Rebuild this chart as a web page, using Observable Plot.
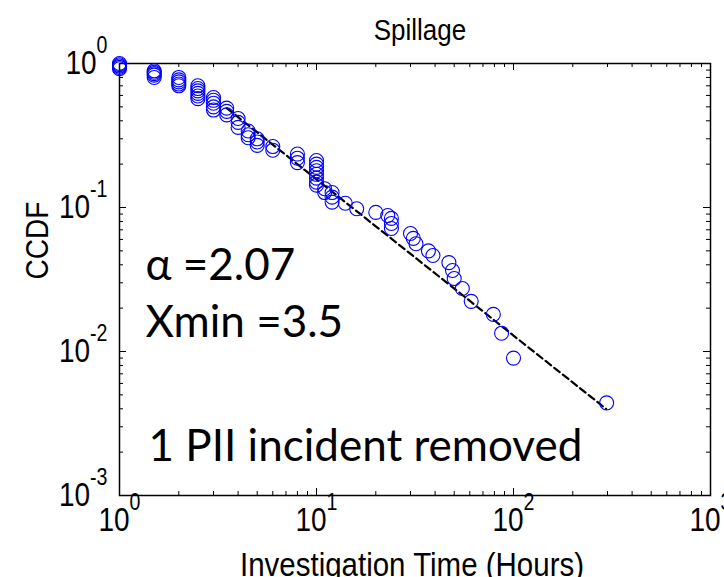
<!DOCTYPE html>
<html><head><meta charset="utf-8">
<script src="https://cdn.jsdelivr.net/npm/d3@7"></script>
<script src="https://cdn.jsdelivr.net/npm/@observablehq/plot@0.6"></script>
<style>body{margin:0;background:#fff} #chart svg{display:block}</style>
</head><body><div id="chart"></div>
<script>
const hours = [
  1,1,1,1,1,
  1.5,1.5,1.5,1.5,1.5,
  2,2,2,2,2,
  2.5,2.5,2.5,2.5,2.5,2.5,
  3,3,3,3,3,
  3.5,3.5,3.5,
  4,4,4,
  4.5,4.5,4.5,
  5,5,5,
  6,6,
  8,8,8,
  10,10,10,10,10,10,10,10,
  11,11,
  12,12,12,
  14,16,
  20,23,24,24,24,
  30,31,32,
  37,39,
  47,49,50,
  55,61,
  79,87,
  100,
  297
];
const ccdf = [
  1.0,0.98,0.96,0.94,0.92,
  0.89,0.87,0.85,0.83,0.80,
  0.80,0.77,0.745,0.72,0.70,
  0.70,0.67,0.645,0.62,0.595,0.57,
  0.58,0.555,0.53,0.50,0.475,
  0.49,0.465,0.44,
  0.415,0.39,0.36,
  0.34,0.32,0.305,
  0.30,0.285,0.27,
  0.265,0.25,
  0.235,0.22,0.205,
  0.212,0.2,0.19,0.18,0.17,0.16,0.15,0.143,
  0.135,0.127,
  0.127,0.118,0.109,
  0.107,0.098,
  0.0925,0.088,0.084,0.0775,0.0715,
  0.066,0.061,0.056,
  0.050,0.0464,
  0.0414,0.0365,0.0321,
  0.0274,0.0223,
  0.0181,0.0134,
  0.0090,
  0.0044
];
const fitHours = [3.5, 10, 20, 100, 295];
const fitCcdf = [0.49, 0.157, 0.074, 0.0129, 0.0040];
const xMajor = [1, 10, 100, 1000];
const yMajor = [0.001, 0.01, 0.1, 1];
const xTickLabels = ["10^0", "10^1", "10^2", "10^3"];
const yTickLabels = ["10^-3", "10^-2", "10^-1", "10^0"];
const title = "Spillage";
const xTitle = "Investigation Time (Hours)";
const yTitle = "CCDF";
const notes = ["α =2.07", "Xmin =3.5", "1 PII incident removed"];

const points = hours.map((h, i) => ({h, p: ccdf[i]}));
const fit = fitHours.map((h, i) => ({h, p: fitCcdf[i]}));
const isDecade = v => Math.abs(Math.log10(v) - Math.round(Math.log10(v))) < 1e-9;
const xMinor = d3.scaleLog().domain([1, 1000]).ticks().filter(v => !isDecade(v));
const yMinor = d3.scaleLog().domain([0.001, 1]).ticks().filter(v => !isDecade(v));
const fmtX = d => xTickLabels[xMajor.findIndex(v => Math.abs(v - d) < 1e-12)];
const fmtY = d => yTickLabels[yMajor.findIndex(v => Math.abs(v - d) < 1e-12)];

const W = 724, H = 577, mL = 119, mR = 14, mT = 63, mB = 82;
const FW = W - mL - mR, FH = H - mT - mB;
const minorLen = 4, majorLen = 7;
const noteFont = "Lato, 'Open Sans', sans-serif";
const tk = {stroke: "black", strokeWidth: 1};

const svg = Plot.plot({
  width: W, height: H,
  marginLeft: mL, marginRight: mR, marginTop: mT, marginBottom: mB,
  style: {fontFamily: "'Liberation Sans', Arial, sans-serif", fontSize: "28px", color: "black", background: "white"},
  x: {type: "log", domain: [1, 1000], axis: null},
  y: {type: "log", domain: [0.001, 1], axis: null},
  marks: [
    Plot.tickX(xMinor, {x: d => d, insetTop: FH - minorLen, ...tk}),
    Plot.tickX(xMinor, {x: d => d, insetBottom: FH - minorLen, ...tk}),
    Plot.tickX(xMajor, {x: d => d, insetTop: FH - majorLen, ...tk}),
    Plot.tickX(xMajor, {x: d => d, insetBottom: FH - majorLen, ...tk}),
    Plot.tickY(yMinor, {y: d => d, insetRight: FW - minorLen, ...tk}),
    Plot.tickY(yMinor, {y: d => d, insetLeft: FW - minorLen, ...tk}),
    Plot.tickY(yMajor, {y: d => d, insetRight: FW - majorLen, ...tk}),
    Plot.tickY(yMajor, {y: d => d, insetLeft: FW - majorLen, ...tk}),
    Plot.axisX(xMajor, {anchor: "bottom", tickSize: 0, tickPadding: 12, tickFormat: fmtX, label: null, fontSize: 28}),
    Plot.axisY(yMajor, {anchor: "left", tickSize: 0, tickPadding: 12, tickFormat: fmtY, label: null, fontSize: 28}),
    Plot.frame({stroke: "black", strokeWidth: 1.5}),
    Plot.line(fit, {x: "h", y: "p", stroke: "black", strokeWidth: 2.2, strokeDasharray: "7,4"}),
    Plot.dot(points, {x: "h", y: "p", r: 7, stroke: "#0000ff", fill: "none", strokeWidth: 1.1}),
    Plot.text([title], {frameAnchor: "top", lineAnchor: "middle", dx: 5, dy: -33, fontSize: 26}),
    Plot.text([xTitle], {frameAnchor: "bottom", lineAnchor: "middle", dx: -3, dy: 70, fontSize: 29.5}),
    Plot.text([yTitle], {frameAnchor: "left", lineAnchor: "middle", dx: -82, rotate: -90, fontSize: 28}),
    Plot.text([notes[0]], {frameAnchor: "top-left", lineAnchor: "middle", dx: 26, dy: 202, textAnchor: "start", fontFamily: noteFont, fontSize: 44}),
    Plot.text([notes[1]], {frameAnchor: "top-left", lineAnchor: "middle", dx: 26, dy: 259, textAnchor: "start", fontFamily: noteFont, fontSize: 44}),
    Plot.text([notes[2]], {frameAnchor: "top-left", lineAnchor: "middle", dx: 29, dy: 383, textAnchor: "start", fontFamily: noteFont, fontSize: 44})
  ]
});

const ns = "http://www.w3.org/2000/svg";
svg.querySelectorAll('g[aria-label="x-axis tick label"] text, g[aria-label="y-axis tick label"] text').forEach(t => {
  const s = t.textContent;
  const parts = s.split("^");
  if (parts.length < 2) return;
  t.textContent = "";
  const b = document.createElementNS(ns, "tspan");
  b.textContent = parts[0];
  t.appendChild(b);
  const e = document.createElementNS(ns, "tspan");
  e.setAttribute("font-size", "0.7em");
  e.setAttribute("dy", "-0.92em");
  e.textContent = parts[1];
  t.appendChild(e);
  const tr = t.getAttribute("transform") || "";
  t.setAttribute("transform", tr + " scale(1,1.2)");
});
svg.querySelectorAll("text").forEach(t => {
  if (t.textContent === title || t.textContent === xTitle || t.textContent === yTitle) {
    const tr = t.getAttribute("transform") || "";
    t.setAttribute("transform", tr + " scale(1,1.15)");
  }
});
document.getElementById("chart").appendChild(svg);
</script>
</body></html>
